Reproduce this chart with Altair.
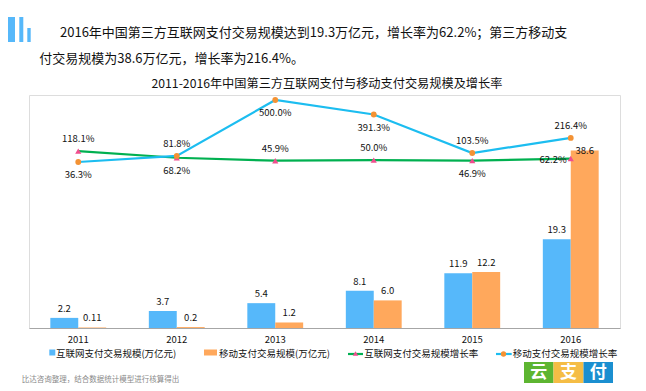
import altair as alt
import pandas as pd

# ---------------- data ----------------
years = ["2011", "2012", "2013", "2014", "2015", "2016"]
internet_scale = [2.2, 3.7, 5.4, 8.1, 11.9, 19.3]
mobile_scale = [0.11, 0.2, 1.2, 6.0, 12.2, 38.6]
internet_growth = [118.1, 68.2, 45.9, 50.0, 46.9, 62.2]
mobile_growth = [36.3, 81.8, 500.0, 391.3, 103.5, 216.4]
internet_label_pos = ["above", "below", "above", "above", "below", "left"]
mobile_label_pos = ["below", "above", "below", "below", "above", "above"]

series_bar = ["互联网支付交易规模(万亿元)", "移动支付交易规模(万亿元)"]
series_line = ["互联网支付交易规模增长率", "移动支付交易规模增长率"]

header1 = "2016年中国第三方互联网支付交易规模达到19.3万亿元，增长率为62.2%；第三方移动支"
header2 = "付交易规模为38.6万亿元，增长率为216.4%。"
title_text = "2011-2016年中国第三方互联网支付与移动支付交易规模及增长率"
footnote = "比达咨询整理，结合数据统计模型进行核算得出"
logo_chars = ["云", "支", "付"]

# ---------------- styles ----------------
FONT = "Noto Sans CJK SC"
BLUE = "#56B8FA"
ORANGE = "#FFA85C"
GREEN = "#00B050"
CYAN = "#1CBDF0"
PINK = "#F04E8E"
DOT = "#F39234"
TXT = "#111111"

bar_df = pd.DataFrame({
    "year": years * 2,
    "series": [series_bar[0]] * 6 + [series_bar[1]] * 6,
    "value": internet_scale + mobile_scale,
    "label": [str(v) for v in internet_scale] + [str(v) for v in mobile_scale],
})

line_df = pd.DataFrame({
    "year": years * 2,
    "series": [series_line[0]] * 6 + [series_line[1]] * 6,
    "value": internet_growth + mobile_growth,
    "pos": internet_label_pos + mobile_label_pos,
    "label": [f"{v:.1f}%" for v in internet_growth + mobile_growth],
})
green_df = line_df[line_df.series == series_line[0]]
cyan_df = line_df[line_df.series == series_line[1]]

X = alt.X(
    "year:N",
    scale=alt.Scale(domain=years, paddingInner=0.433, paddingOuter=0.2165),
    axis=alt.Axis(title=None, labelAngle=0, ticks=False, tickSize=0, grid=False,
                  domainColor="#A6A6A6", domainWidth=1, labelFont=FONT,
                  labelFontSize=9.5, labelColor=TXT, labelPadding=6),
)
XO = alt.XOffset("series:N", scale=alt.Scale(domain=series_bar, paddingInner=0, paddingOuter=0))
bar_scale = alt.Scale(domain=[0, 50.65], nice=False, zero=True)
line_scale = alt.Scale(domain=[-1205.3, 537.4], nice=False, zero=False)

bars = alt.Chart(bar_df).mark_bar().encode(
    x=X, xOffset=XO,
    y=alt.Y("value:Q", scale=bar_scale, axis=None),
    color=alt.Color("series:N", scale=alt.Scale(domain=series_bar, range=[BLUE, ORANGE]), legend=None),
)

bar_text = alt.Chart(bar_df).transform_calculate(
    ly="min(datum.value, 36.6)"
).mark_text(dy=-9, font=FONT, fontSize=9.5, color=TXT, baseline="middle").encode(
    x=X, xOffset=XO,
    y=alt.Y("ly:Q", scale=bar_scale, axis=None),
    text="label:N",
)

def line_layers(df, line_color, marker_shape, marker_color, msize):
    Y = alt.Y("value:Q", scale=line_scale, axis=None)
    base = alt.Chart(df)
    ln = base.mark_line(color=line_color, strokeWidth=2.2).encode(x=X, y=Y)
    pt = base.mark_point(shape=marker_shape, filled=True, color=marker_color,
                         size=msize, opacity=1).encode(x=X, y=Y)
    above = base.transform_filter("datum.pos == 'above'").mark_text(
        dy=-12, font=FONT, fontSize=9.5, color=TXT, baseline="middle").encode(x=X, y=Y, text="label:N")
    below = base.transform_filter("datum.pos == 'below'").mark_text(
        dy=13, font=FONT, fontSize=9.5, color=TXT, baseline="middle").encode(x=X, y=Y, text="label:N")
    left = base.transform_filter("datum.pos == 'left'").mark_text(
        dx=-4, dy=1, align="right", font=FONT, fontSize=9.5, color=TXT, baseline="middle").encode(x=X, y=Y, text="label:N")
    return [ln, pt, above, below, left]

green_layers = line_layers(green_df, GREEN, "triangle-up", PINK, 38)
cyan_layers = line_layers(cyan_df, CYAN, "circle", DOT, 34)

one = pd.DataFrame({"a": [0]})

def text_at(t, x, y, size, color=TXT, align="left", weight="normal"):
    return alt.Chart(pd.DataFrame({"t": [t]})).mark_text(
        font=FONT, fontSize=size, color=color, align=align, baseline="middle",
        fontWeight=weight
    ).encode(text="t:N", x=alt.value(x), y=alt.value(y))

def rect_at(x, x2, y, y2, color):
    return alt.Chart(one).mark_rect(color=color).encode(
        x=alt.value(x), x2=alt.value(x2), y=alt.value(y), y2=alt.value(y2))

# header, title, footnote
header = [
    text_at(header1, 31, -62, 13),
    text_at(header2, 10.3, -36.5, 13),
    text_at(title_text, 298, -11, 12.2, align="center"),
    text_at(footnote, -7.3, 285, 7.5, color="#8A8A8A"),
]

# decorative bars (top-left)
deco = [
    rect_at(-21, -14, -78, -53, BLUE),
    rect_at(-9.7, -5.7, -78, -53, BLUE),
    rect_at(-1.7, 1.7, -67, -53, BLUE),
]

# legend
legend = [
    rect_at(20.3, 26.3, 254.5, 260.5, BLUE),
    text_at(series_bar[0], 26.9, 258.5, 9.5),
    rect_at(175, 188, 254.5, 260.5, ORANGE),
    text_at(series_bar[1], 190, 258.5, 9.5),
    alt.Chart(one).mark_rule(color=GREEN, strokeWidth=2.2).encode(
        x=alt.value(319), x2=alt.value(334), y=alt.value(259)),
    alt.Chart(one).mark_point(shape="triangle-up", filled=True, color=PINK, size=30, opacity=1).encode(
        x=alt.value(326.5), y=alt.value(258.5)),
    text_at(series_line[0], 335.3, 258.5, 9.5),
    alt.Chart(one).mark_rule(color=CYAN, strokeWidth=2.2).encode(
        x=alt.value(467), x2=alt.value(482.7), y=alt.value(259)),
    alt.Chart(one).mark_point(shape="circle", filled=True, color=DOT, size=28, opacity=1).encode(
        x=alt.value(474.5), y=alt.value(259)),
    text_at(series_line[1], 483.7, 258.5, 9.5),
]

# logo
logo = [
    rect_at(495, 524.5, 267, 292, "#5DB531"),
    rect_at(524.5, 554.5, 267, 292, "#F5BD45"),
    rect_at(554.5, 584, 267, 292, "#1B8FD0"),
    text_at(logo_chars[0], 509.7, 277.5, 17, color="white", align="center", weight="bold"),
    text_at(logo_chars[1], 539.5, 277.5, 17, color="white", align="center", weight="bold"),
    text_at(logo_chars[2], 569.3, 277.5, 17, color="white", align="center", weight="bold"),
]

chart = alt.layer(
    bars, *green_layers, *cyan_layers, bar_text, *header, *deco, *legend, *logo
).resolve_scale(y="independent").properties(
    width=591, height=233,
    autosize=alt.AutoSizeParams(type="none"),
    padding={"left": 21, "top": 87, "right": 18, "bottom": 55},
).configure_view(stroke=None).configure(background="white")

chart.save("out.html", embed_options={"renderer": "svg", "actions": False})
